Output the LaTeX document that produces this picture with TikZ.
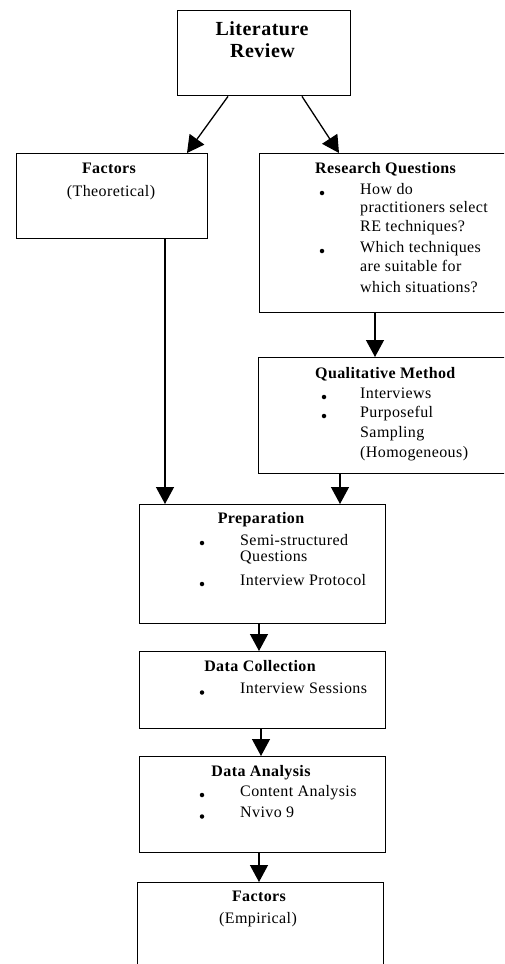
\documentclass[tikz,border=0pt]{standalone}
\usepackage{fontspec}
\setmainfont{Liberation Serif}[LetterSpace=2.5]
\usetikzlibrary{arrows.meta}
\begin{document}
\begin{tikzpicture}[x=1pt,y=-1pt,
 box/.style={draw,line width=1.4pt,inner sep=0,anchor=north west},
 txt/.style={inner sep=0,anchor=base west,font=\fontsize{16}{18}\selectfont},
 ctxt/.style={inner sep=0,anchor=base,font=\fontsize{16}{18}\selectfont},
 ttl/.style={inner sep=0,anchor=base,font=\fontsize{16}{18}\selectfont\bfseries},
 lttl/.style={inner sep=0,anchor=base west,font=\fontsize{16}{18}\selectfont\bfseries},
 bigttl/.style={inner sep=0,anchor=base,font=\fontsize{20}{24}\selectfont\bfseries},
 arr/.style={line width=1.3pt,-{Triangle[width=18pt,length=17pt]}},
 bul/.style={circle,fill,inner sep=0,minimum size=4.5pt}]
\useasboundingbox (0,0) rectangle (504,964);
\clip (0,0) rectangle (504,964);
% boxes
\node[box,minimum width=173pt,minimum height=85pt] (lit) at (177,10) {};
\node[box,minimum width=191pt,minimum height=85pt] (fth) at (16,153) {};
\node[box,minimum width=260pt,minimum height=159pt] (rq) at (259,153) {};
\node[box,minimum width=260pt,minimum height=116pt] (qm) at (258,357) {};
\node[box,minimum width=246pt,minimum height=119pt] (prep) at (139,504) {};
\node[box,minimum width=246pt,minimum height=77pt] (dc) at (139,651) {};
\node[box,minimum width=246pt,minimum height=96pt] (da) at (139,756) {};
\node[box,minimum width=246pt,minimum height=100pt] (fe) at (137,882) {};
% literature review
\node[bigttl] (lit1) at (262,35) {Literature};
\node[bigttl] (lit2) at (262.5,57) {Review};
% factors theoretical
\node[ttl] (fth1) at (109,173) {Factors};
\node[ctxt] (fth2) at (111,196) {(Theoretical)};
% research questions
\node[lttl] (rq0) at (315,173) {Research Questions};
\node[bul] (rqb1) at (322,193) {};
\node[bul] (rqb2) at (322,251) {};
\node[txt] (rq1) at (360,194) {How do};
\node[txt] (rq2) at (360,212) {practitioners select};
\node[txt] (rq3) at (360,231) {RE techniques?};
\node[txt] (rq4) at (360,252) {Which techniques};
\node[txt] (rq5) at (360,271) {are suitable for};
\node[txt] (rq6) at (360,292) {which situations?};
% qualitative method
\node[lttl] (qm0) at (315,378) {Qualitative Method};
\node[bul] (qmb1) at (324,397) {};
\node[bul] (qmb2) at (324,416) {};
\node[txt] (qm1) at (360,398) {Interviews};
\node[txt] (qm2) at (360,417) {Purposeful};
\node[txt] (qm3) at (360,437) {Sampling};
\node[txt] (qm4) at (360,457) {(Homogeneous)};
% preparation
\node[ttl] (pr0) at (261,523) {Preparation};
\node[bul] (prb1) at (202,543) {};
\node[bul] (prb2) at (202,584) {};
\node[txt] (pr1) at (240,545) {Semi-structured};
\node[txt] (pr2) at (240,561) {Questions};
\node[txt] (pr3) at (240,585) {Interview Protocol};
% data collection
\node[ttl] (dc0) at (260,671) {Data Collection};
\node[bul] (dcb1) at (202,692.5) {};
\node[txt] (dc1) at (240,693) {Interview Sessions};
% data analysis
\node[ttl] (da0) at (261,776) {Data Analysis};
\node[bul] (dab1) at (202,795) {};
\node[bul] (dab2) at (202,816.5) {};
\node[txt] (da1) at (240,796) {Content Analysis};
\node[txt] (da2) at (240,817) {Nvivo 9};
% factors empirical
\node[ttl] (fe0) at (259,901) {Factors};
\node[ctxt] (fe1) at (258,923) {(Empirical)};
% connectors
\draw[arr] ([xshift=51pt]lit.south west) -- ([xshift=171pt]fth.north west);
\draw[arr] ([xshift=125pt]lit.south west) -- ([xshift=80pt]rq.north west);
\draw[arr] ([xshift=149pt]fth.south west) -- ([xshift=26pt]prep.north west);
\draw[arr] ([xshift=116pt]rq.south west) -- ([xshift=117pt]qm.north west);
\draw[arr] ([xshift=82pt]qm.south west) -- ([xshift=201pt]prep.north west);
\draw[arr] ([xshift=120pt]prep.south west) -- ([xshift=120pt]dc.north west);
\draw[arr] ([xshift=122pt]dc.south west) -- ([xshift=122pt]da.north west);
\draw[arr] ([xshift=120pt]da.south west) -- ([xshift=122pt]fe.north west);
\end{tikzpicture}
\end{document}
